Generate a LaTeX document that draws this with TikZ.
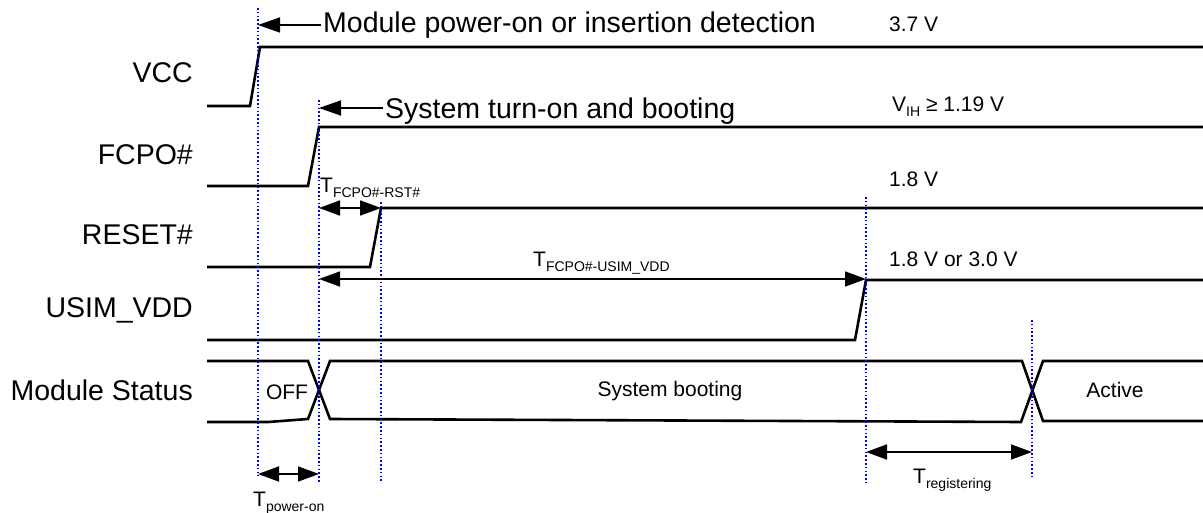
\documentclass[tikz,border=0pt]{standalone}
\usepackage{fontspec}
\setmainfont{Liberation Sans}
\usetikzlibrary{arrows.meta}

\newcommand{\bigtxt}{\fontsize{28.5}{32}\selectfont}
\newcommand{\smalltxt}{\fontsize{21}{24}\selectfont}
\newcommand{\subtxt}[1]{\raisebox{-5pt}{\fontsize{14}{16}\selectfont #1}}
\newcommand{\tparam}[1]{{\smalltxt T}\subtxt{#1}}

\begin{document}
\begin{tikzpicture}[x=1pt,y=-1pt,
    sig/.style={line width=2.6pt},
    guide/.style={blue,line width=1.8pt,dash pattern=on 1.6pt off 2.2pt},
    callout/.style={line width=1.6pt,-{Triangle[length=22pt,width=15pt]}},
    dim/.style={line width=1.6pt,{Triangle[length=21pt,width=15pt]}-{Triangle[length=21pt,width=15pt]}},
    signame/.style={anchor=base east,inner sep=0pt,font=\bigtxt},
    level/.style={anchor=base west,inner sep=0pt,font=\smalltxt},
    tlabel/.style={anchor=base west,inner sep=0pt}]

\useasboundingbox (0,0) rectangle (1203,513);

% signal names
\node[signame] (vcc) at (193,83) {VCC};
\node[signame] (fcpo) at (193,165) {FCPO\#};
\node[signame] (rst) at (193,245) {RESET\#};
\node[signame] (usim) at (193,318) {USIM\_VDD};
\node[signame] (stat) at (193,400) {Module Status};

% levels
\node[level] (v37) at (889,32) {3.7 V};
\node[level] (vih) at (892,112) {V\subtxt{IH} ≥ 1.19 V};
\node[level] (v18) at (889,187) {1.8 V};
\node[level] (vsim) at (889,267) {1.8 V or 3.0 V};

% waveforms
\draw[sig] (207,106) -- (250,106) -- (260,47) -- (1203,47);
\draw[sig] (207,186) -- (308,186) -- (319,127) -- (1203,127);
\draw[sig] (207,267) -- (370,267) -- (381,208) -- (1203,208);
\draw[sig] (207,340) -- (855,340) -- (866,280) -- (1203,280);
% status bus
\draw[sig] (207,361) -- (308,361) -- (330,419) -- (1021,422) -- (1043,361) -- (1203,361);
\draw[sig] (207,422) -- (268,422) -- (308,419) -- (330,361) -- (1022,361) -- (1043,421) -- (1203,421);

\node[font=\smalltxt,anchor=base] (off) at (287,399) {OFF};
\node[font=\smalltxt,anchor=base] (boot) at (670,396) {System booting};
\node[font=\smalltxt,anchor=base] (act) at (1115,397) {Active};

% timing guides
\coordinate (gA) at (258,8);
\coordinate (gB) at (319,100);
\coordinate (gC) at (381,202);
\coordinate (gD) at (866,197);
\coordinate (gE) at (1032,320);
\draw[guide] (gA) -- (258,476);
\draw[guide] (gB) -- (319,483);
\draw[guide] (gC) -- (381,483);
\draw[guide] (gD) -- (866,483);
\draw[guide] (gE) -- (1032,478);

% events
\node[anchor=base west,inner sep=0pt,font=\bigtxt] (pwrtxt) at (323,33) {Module power-on or insertion detection};
\node[anchor=base west,inner sep=0pt,font=\bigtxt] (systxt) at (385,119) {System turn-on and booting};
\coordinate (pwrarr) at (321,25);
\coordinate (sysarr) at (383,108);
\draw[callout] (pwrarr) -- (pwrarr -| gA);
\draw[callout] (sysarr) -- (sysarr -| gB);

% intervals
\coordinate (rstL) at (319,208);
\coordinate (rstR) at (381,208);
\coordinate (simL) at (319,279);
\coordinate (simR) at (866,279);
\coordinate (regL) at (866,452);
\coordinate (regR) at (1032,452);
\coordinate (ponL) at (258,474);
\coordinate (ponR) at (319,474);
\draw[dim] (rstL) -- (rstR);
\draw[dim] (simL) -- (simR);
\draw[dim] (regL) -- (regR);
\draw[dim] (ponL) -- (ponR);

\node[tlabel] (trst) at (320,193) {\tparam{FCPO\#-RST\#}};
\node[tlabel] (tsim) at (533,267) {\tparam{FCPO\#-USIM\_VDD}};
\node[tlabel] (treg) at (913,483) {\tparam{registering}};
\node[tlabel] (tpon) at (253,506) {\tparam{power-on}};
\end{tikzpicture}
\end{document}
